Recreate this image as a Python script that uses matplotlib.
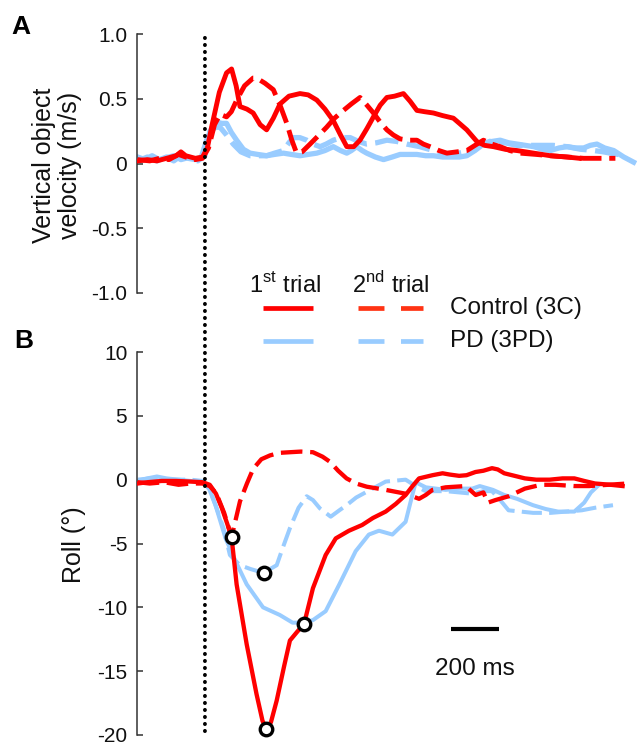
import matplotlib
matplotlib.use('Agg')
import matplotlib.pyplot as plt
from matplotlib.lines import Line2D
from matplotlib.patches import ConnectionPatch

plt.rcParams['font.family'] = ['Liberation Sans', 'DejaVu Sans']
plt.rcParams['mathtext.fontset'] = 'custom'
plt.rcParams['mathtext.rm'] = 'Liberation Sans'

RED = '#ff0000'
RED_LEG = '#ff3314'
BLUE = '#99ccff'

# ---- Panel A: vertical object velocity (m/s), time in ms from onset ----
a_c1_t = [-280, -240, -200, -160, -120, -100, -80, -40, -10, 10, 30, 60, 90, 111, 130, 146, 175, 201,
          230, 257, 285, 313, 350, 396, 430, 466, 500, 535, 565, 591, 620, 646, 675, 702, 730, 758,
          790, 827, 855, 883, 915, 952, 990, 1035, 1060, 1091, 1133, 1165, 1202, 1250, 1300, 1370,
          1439, 1509, 1560]
a_c1_v = [0.02, 0.03, 0.02, 0.04, 0.06, 0.09, 0.06, 0.04, 0.05, 0.12, 0.30, 0.55, 0.70, 0.73, 0.60,
          0.44, 0.42, 0.39, 0.30, 0.26, 0.35, 0.46, 0.52, 0.54, 0.53, 0.49, 0.42, 0.33, 0.22, 0.13,
          0.13, 0.18, 0.27, 0.36, 0.45, 0.51, 0.52, 0.54, 0.48, 0.41, 0.40, 0.39, 0.37, 0.35, 0.31,
          0.26, 0.17, 0.14, 0.13, 0.11, 0.10, 0.08, 0.06, 0.05, 0.04]

a_c2_t = [-280, -230, -190, -150, -110, -80, -40, -10, 15, 40, 63, 90, 110, 135, 165, 201, 215, 250,
          285, 315, 341, 362, 382, 405, 438, 470, 507, 540, 577, 610, 646, 675, 702, 730, 758, 785,
          813, 850, 883, 910, 938, 975, 1008, 1050, 1091, 1125, 1160, 1195, 1230, 1270, 1313, 1380,
          1439, 1510, 1578, 1650, 1710]
a_c2_v = [0.03, 0.02, 0.04, 0.03, 0.07, 0.05, 0.03, 0.04, 0.12, 0.30, 0.38, 0.36, 0.40, 0.50, 0.60,
          0.66, 0.66, 0.62, 0.57, 0.44, 0.31, 0.18, 0.08, 0.09, 0.15, 0.21, 0.28, 0.35, 0.41, 0.46,
          0.51, 0.45, 0.39, 0.32, 0.26, 0.22, 0.19, 0.18, 0.18, 0.15, 0.13, 0.10, 0.08, 0.09, 0.10,
          0.14, 0.18, 0.15, 0.13, 0.10, 0.08, 0.07, 0.06, 0.05, 0.04, 0.04, 0.04]

a_p1_t = [-280, -250, -220, -190, -160, -130, -100, -70, -40, -15, 7, 30, 49, 70, 90, 110, 132, 160,
          188, 220, 257, 290, 327, 360, 396, 430, 466, 500, 535, 565, 591, 610, 632, 655, 674, 710,
          744, 780, 813, 850, 883, 920, 952, 990, 1022, 1060, 1091, 1125, 1160, 1195, 1230, 1265,
          1300, 1335, 1370, 1405, 1439, 1475, 1509, 1545, 1578, 1605, 1633, 1665, 1703, 1745, 1786]
a_p1_v = [0.05, 0.03, 0.06, 0.03, 0.05, 0.02, 0.06, 0.04, 0.03, 0.05, 0.18, 0.28, 0.32, 0.31, 0.31,
          0.24, 0.18, 0.11, 0.08, 0.07, 0.06, 0.07, 0.08, 0.07, 0.06, 0.07, 0.08, 0.10, 0.13, 0.10,
          0.08, 0.10, 0.13, 0.10, 0.08, 0.05, 0.03, 0.05, 0.07, 0.07, 0.07, 0.06, 0.06, 0.05, 0.05,
          0.05, 0.06, 0.10, 0.15, 0.17, 0.18, 0.16, 0.15, 0.14, 0.13, 0.11, 0.10, 0.12, 0.13, 0.12,
          0.12, 0.14, 0.15, 0.12, 0.10, 0.05, 0.01]

a_p2_t = [-280, -240, -200, -170, -130, -100, -60, -30, 0, 21, 45, 63, 90, 118, 150, 188, 225, 257,
          290, 327, 350, 368, 395, 424, 450, 480, 505, 535, 570, 605, 640, 674, 715, 758, 800, 841,
          895, 952, 995, 1035, 1080, 1133, 1170, 1202, 1250, 1300, 1350, 1397, 1450, 1509, 1565,
          1620, 1660, 1689, 1720, 1758]
a_p2_v = [0.02, 0.05, 0.02, 0.04, 0.06, 0.03, 0.05, 0.02, 0.06, 0.25, 0.28, 0.28, 0.22, 0.15, 0.09,
          0.06, 0.06, 0.06, 0.08, 0.10, 0.16, 0.20, 0.20, 0.18, 0.15, 0.13, 0.15, 0.18, 0.20, 0.20,
          0.17, 0.15, 0.16, 0.18, 0.17, 0.15, 0.13, 0.10, 0.08, 0.07, 0.09, 0.13, 0.16, 0.18, 0.16,
          0.14, 0.14, 0.14, 0.14, 0.13, 0.11, 0.10, 0.09, 0.08, 0.07, 0.06]

# ---- Panel B: roll (deg) ----
b_c1_t = [-280, -240, -180, -120, -60, -10, 20, 46, 70, 92, 111, 132, 174, 215, 240, 256, 275, 299,
          330, 354, 385, 413, 450, 503, 545, 600, 655, 700, 753, 795, 836, 865, 892, 948, 990, 1020,
          1059, 1090, 1127, 1160, 1196, 1220, 1247, 1290, 1333, 1380, 1436, 1490, 1539, 1580, 1625,
          1690, 1740]
b_c1_v = [-0.3, -0.2, -0.1, -0.1, -0.15, -0.2, -0.4, -1.1, -2.2, -3.4, -4.5, -8.2, -12.9, -16.8,
          -18.9, -19.5, -19.0, -17.3, -14.6, -12.6, -11.9, -11.3, -8.5, -5.9, -4.6, -4.0, -3.55,
          -3.0, -2.5, -1.9, -1.2, -0.5, 0.1, 0.35, 0.5, 0.4, 0.3, 0.35, 0.6, 0.7, 0.9, 0.8, 0.5, 0.3,
          0.1, 0.0, 0.0, 0.1, 0.1, -0.1, -0.3, -0.4, -0.5]

b_c2_t = [-280, -230, -170, -110, -60, -10, 20, 48, 80, 111, 146, 175, 201, 235, 271, 310, 354, 400,
          450, 490, 521, 555, 590, 630, 674, 753, 836, 892, 920, 948, 1003, 1086, 1128, 1160, 1179,
          1210, 1265, 1333, 1400, 1460, 1539, 1600, 1680, 1760]
b_c2_v = [-0.2, -0.3, -0.2, -0.4, -0.3, -0.3, -0.5, -1.1, -2.6, -4.5, -1.7, -0.3, 0.85, 1.6, 1.9,
          2.1, 2.15, 2.2, 2.15, 1.8, 1.4, 0.7, 0.1, -0.3, -0.55, -0.8, -1.1, -1.5, -1.2, -0.8, -0.6,
          -0.5, -1.2, -1.0, -1.8, -1.6, -1.3, -0.7, -0.4, -0.4, -0.5, -0.5, -0.4, -0.3]

b_p1_t = [-280, -240, -200, -160, -110, -60, -10, 15, 44, 86, 128, 174, 242, 312, 365, 410, 450, 503,
          560, 628, 683, 725, 781, 836, 864, 878, 920, 1003, 1060, 1114, 1145, 1200, 1247, 1300,
          1367, 1420, 1471, 1539, 1580, 1608, 1642]
b_p1_v = [-0.1, 0.1, 0.25, 0.1, 0.0, -0.1, -0.2, -0.6, -2.0, -4.6, -6.4, -8.2, -10.0, -10.6, -11.2,
          -11.2, -11.0, -10.3, -8.2, -5.6, -4.3, -4.0, -4.3, -3.3, -1.2, -0.2, -0.6, -0.8, -0.7,
          -0.7, -0.5, -0.8, -1.2, -1.5, -2.0, -2.3, -2.5, -2.5, -1.8, -1.0, -0.4]

b_p2_t = [-280, -230, -180, -120, -60, -10, 20, 50, 79, 104, 146, 190, 244, 299, 325, 354, 390, 424,
          450, 479, 524, 560, 590, 630, 674, 753, 836, 878, 920, 1003, 1060, 1114, 1160, 1196, 1230,
          1265, 1367, 1440, 1505, 1570, 1625, 1700]
b_p2_v = [0.0, 0.1, 0.05, 0.0, 0.0, -0.1, -0.8, -2.3, -3.9, -5.9, -6.7, -7.0, -7.3, -6.7, -5.3,
          -3.8, -2.2, -1.3, -1.6, -2.25, -2.9, -2.4, -2.0, -1.4, -0.95, -0.15, 0.0, -0.5, -0.9, -0.9,
          -1.0, -1.1, -0.9, -0.9, -1.6, -2.4, -2.6, -2.6, -2.5, -2.4, -2.2, -2.0]

# circles marking peak roll
marker_t = [111, 244, 256, 413]
marker_v = [-4.5, -7.3, -19.5, -11.3]

a_ticks = [-1.0, -0.5, 0, 0.5, 1.0]
a_ticklabels = ['-1.0', '-0.5', '0', '0.5', '1.0']
b_ticks = [-20, -15, -10, -5, 0, 5, 10]
b_ticklabels = ['-20', '-15', '-10', '-5', '0', '5', '10']

W, H = 637, 749
TXT = '#111111'


def fpos(x, y):
    # pixel position (from top-left) to figure fraction
    return x / W, 1 - y / H


fig = plt.figure(figsize=(W / 100, H / 100), dpi=100)
fig.patch.set_facecolor('white')

xlim = (-283, 1800)
left = 137 / W
width = 500 / W
axA = fig.add_axes([left, 1 - 293 / H, width, (293 - 34) / H])
axB = fig.add_axes([left, 1 - 735 / H, width, (735 - 352) / H])

dash = (0, (4.5, 1.6))
axA.plot(a_c1_t, a_c1_v, color=RED, lw=3.5, solid_joinstyle='round', zorder=3)
axA.plot(a_c2_t, a_c2_v, color=RED, lw=3.5, linestyle=dash, zorder=3)
axA.plot(a_p1_t, a_p1_v, color=BLUE, lw=3.8, solid_joinstyle='round', zorder=2)
axA.plot(a_p2_t, a_p2_v, color=BLUE, lw=3.8, linestyle=dash, zorder=2)

axB.plot(b_p1_t, b_p1_v, color=BLUE, lw=2.9, solid_joinstyle='round', zorder=2)
axB.plot(b_p2_t, b_p2_v, color=BLUE, lw=2.9, linestyle=(0, (5, 1.8)), zorder=2)
axB.plot(b_c1_t, b_c1_v, color=RED, lw=3.1, solid_joinstyle='round', zorder=3)
axB.plot(b_c2_t, b_c2_v, color=RED, lw=3.1, linestyle=(0, (5, 1.8)), zorder=3)
axB.plot(marker_t, marker_v, linestyle='none', marker='o', ms=9, mfc='white',
         mec='black', mew=2.4, zorder=5, clip_on=False)

for ax, lim, ticks, labels in [(axA, (-1, 1), a_ticks, a_ticklabels),
                               (axB, (-20, 10), b_ticks, b_ticklabels)]:
    ax.set_xlim(*xlim)
    ax.set_ylim(*lim)
    for s in ['top', 'right', 'bottom']:
        ax.spines[s].set_visible(False)
    ax.spines['left'].set_color('#333333')
    ax.spines['left'].set_linewidth(1.1)
    ax.set_xticks([])
    ax.set_yticks(ticks)
    ax.set_yticklabels(labels)
    ax.tick_params(axis='y', direction='in', length=4, width=1.1, color='#333333',
                   pad=7, labelsize=15, labelcolor=TXT)
    ax.patch.set_alpha(0)

# event onset dotted line across both panels
con = ConnectionPatch(xyA=(0, 0.97), coordsA='data', axesA=axA,
                      xyB=(0, -19.7), coordsB='data', axesB=axB,
                      color='black', lw=2.8, linestyle=(0, (0.05, 1.75)))
con.set_capstyle('round')
fig.add_artist(con)

# scale bar
axB.plot([1026, 1226], [-11.7, -11.7], color='black', lw=3, solid_capstyle='butt')
axB.text(1126, -14.8, '200 ms', ha='center', va='center', fontsize=17.5, color=TXT)

# y labels and panel letters
fig.text(*fpos(57, 165), 'Vertical object\nvelocity (m/s)', rotation=90, ha='center',
         va='center', multialignment='center', fontsize=18, color=TXT, linespacing=1.1)
fig.text(*fpos(74, 545), 'Roll (°)', rotation=90, ha='center', va='center', fontsize=18,
         color=TXT)
fig.text(*fpos(11, 27), 'A', fontsize=19, fontweight='bold', va='center', ha='left')
fig.text(*fpos(14, 341), 'B', fontsize=19, fontweight='bold', va='center', ha='left')

# legend
fig.text(*fpos(249, 285), '1$^{\\mathrm{st}}$ trial', fontsize=17, va='center', ha='left',
         color=TXT)
fig.text(*fpos(352, 285), '2$^{\\mathrm{nd}}$ trial', fontsize=17, va='center', ha='left',
         color=TXT)
for yy, c1, c2 in [(308, RED, RED_LEG), (341, BLUE, BLUE)]:
    x0, y0 = fpos(263, yy)
    x1, _ = fpos(313, yy)
    fig.add_artist(Line2D([x0, x1], [y0, y0], transform=fig.transFigure, color=c1, lw=3.4,
                          solid_capstyle='butt'))
    x0, _ = fpos(358, yy)
    x1, _ = fpos(423, yy)
    fig.add_artist(Line2D([x0, x1], [y0, y0], transform=fig.transFigure, color=c2, lw=3.4,
                          linestyle=(0, (5.5, 3.5)), dash_capstyle='butt'))
fig.text(*fpos(450, 308), 'Control (3C)', fontsize=17.5, va='center', ha='left', color=TXT)
fig.text(*fpos(450, 341), 'PD (3PD)', fontsize=17.5, va='center', ha='left', color=TXT)

fig.savefig('out.png', dpi=100, facecolor='white')
